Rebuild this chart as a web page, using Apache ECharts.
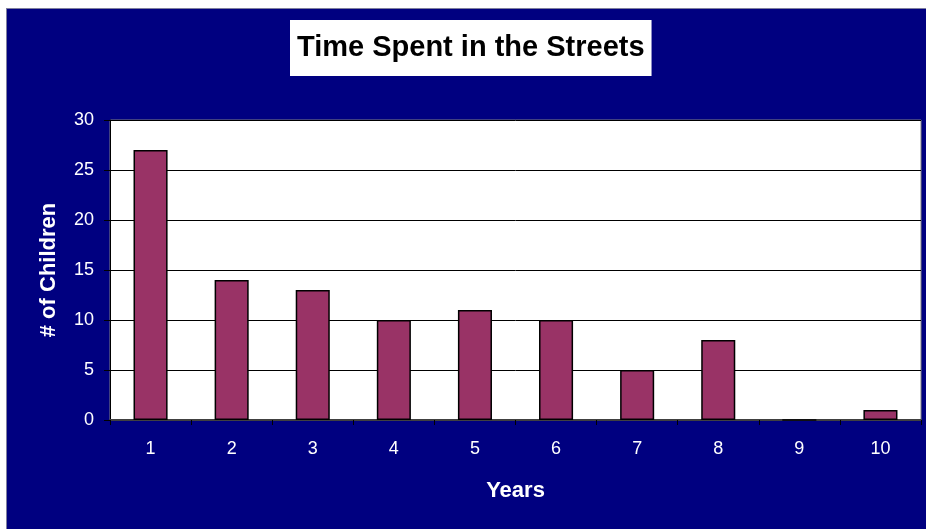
<!DOCTYPE html>
<html>
<head>
<meta charset="utf-8">
<script src="https://cdn.jsdelivr.net/npm/echarts@6/dist/echarts.min.js"></script>
<style>
html,body{margin:0;padding:0;background:#ffffff;width:926px;height:529px;overflow:hidden;}
#frame{position:absolute;left:6px;top:8px;width:920px;height:521px;background:#7f7f9f;}
#chart{position:absolute;left:7px;top:9px;width:919px;height:520px;background:#000080;}
</style>
</head>
<body>
<div id="frame"></div>
<div id="chart"></div>
<script>
var titleText = 'Time Spent in the Streets';
var categories = ['1','2','3','4','5','6','7','8','9','10'];
var childrenCounts = [27, 14, 13, 10, 11, 10, 5, 8, 0, 1];
var xAxisName = 'Years';
var yAxisName = '# of Children';

var chart = echarts.init(document.getElementById('chart'), null, {renderer:'canvas'});
var font = 'Liberation Sans, Arial, Helvetica, sans-serif';
chart.setOption({
  backgroundColor: 'transparent',
  animation: false,
  title: {
    text: titleText,
    left: 283,
    top: 11,
    backgroundColor: '#ffffff',
    padding: [13, 7, 13, 7],
    textStyle: {color:'#000000', fontFamily: font, fontWeight:'bold', fontSize:29, lineHeight:30}
  },
  grid: {
    left: 103, top: 111, right: 5, bottom: 109,
    show: true, backgroundColor: '#ffffff', borderColor: '#808080', borderWidth: 1
  },
  xAxis: {
    type: 'category',
    data: categories,
    name: xAxisName,
    nameLocation: 'middle',
    nameGap: 60,
    nameTextStyle: {color:'#ffffff', fontFamily: font, fontWeight:'bold', fontSize:22},
    axisLine: {lineStyle:{color:'#404040', width:2}},
    axisTick: {show:true, length:5, lineStyle:{color:'#000000'}},
    axisLabel: {color:'#ffffff', fontFamily: font, fontSize:18, margin:20}
  },
  yAxis: {
    type: 'value',
    min: 0, max: 30, interval: 5,
    name: yAxisName,
    nameLocation: 'middle',
    nameGap: 50,
    nameTextStyle: {color:'#ffffff', fontFamily: font, fontWeight:'bold', fontSize:22},
    axisLine: {show:true, lineStyle:{color:'#000000'}},
    axisTick: {show:true, length:6, lineStyle:{color:'#000000'}},
    axisLabel: {color:'#ffffff', fontFamily: font, fontSize:18, margin:16},
    splitLine: {show:true, lineStyle:{color:'#000000', width:1}}
  },
  series: [{
    type: 'bar',
    data: childrenCounts,
    barWidth: '42%',
    itemStyle: {color:'#993366', borderColor:'#000000', borderWidth:1.5}
  }]
});
</script>
</body>
</html>
